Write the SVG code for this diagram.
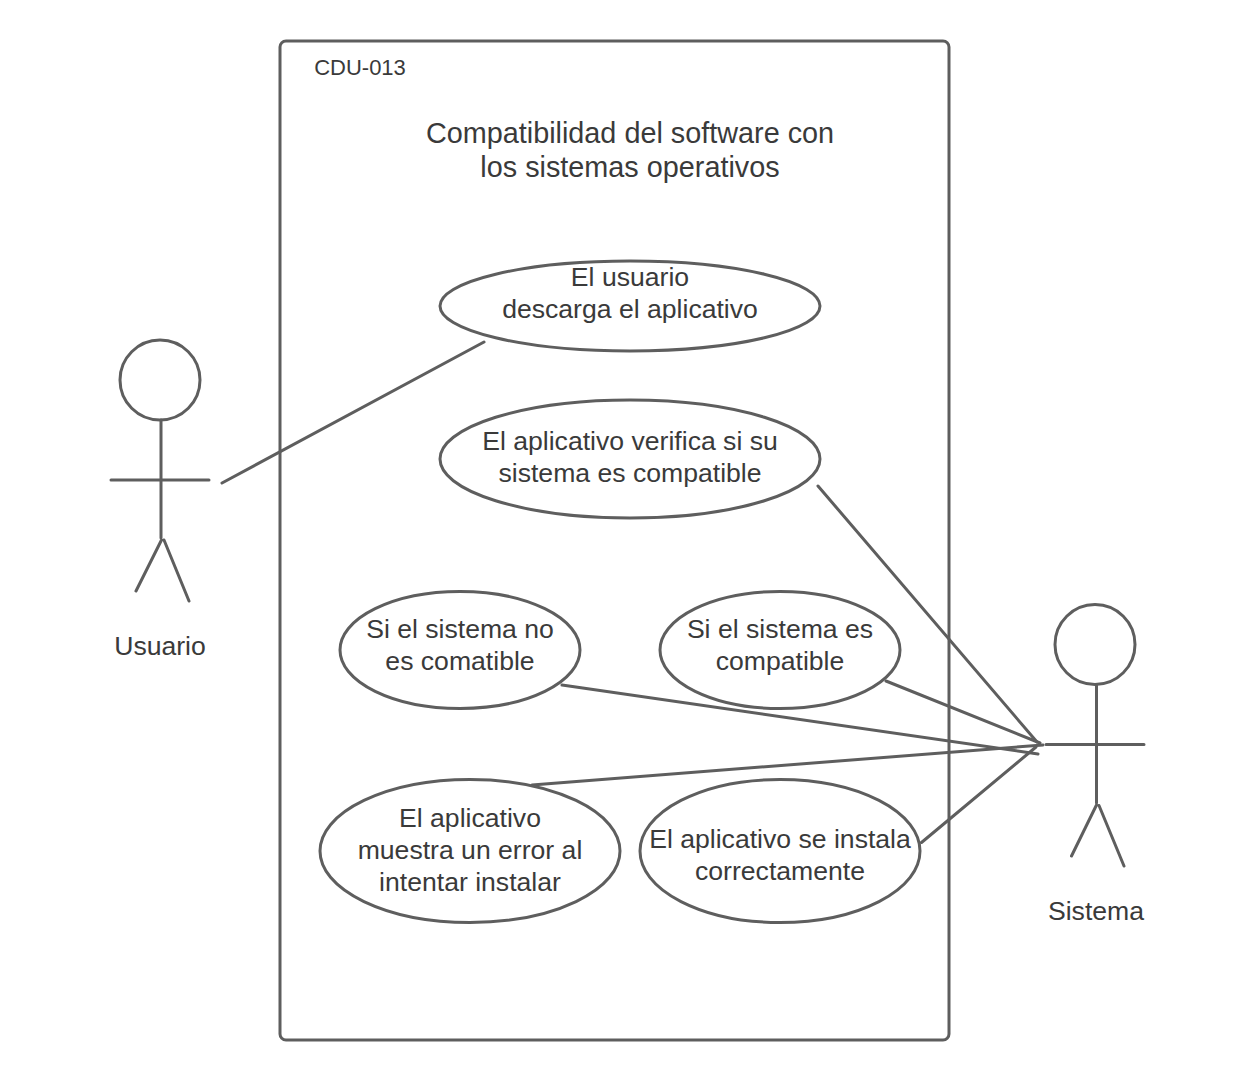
<svg xmlns="http://www.w3.org/2000/svg" width="1256" height="1080" viewBox="0 0 1256 1080">
<style>
.s{fill:none;stroke:#5e5e5e;stroke-width:3;stroke-linecap:round;stroke-linejoin:round}
.e{fill:#fff;stroke:#5e5e5e;stroke-width:3}
text{font-family:"Liberation Sans",Arial,sans-serif;font-size:26.6px;fill:#3a3a3a;text-anchor:middle}
</style>
<rect width="1256" height="1080" fill="#fff"/>
<g id="system"><rect x="280" y="41" width="669" height="999" rx="6" fill="#fff" stroke="#5e5e5e" stroke-width="3"/>
<text x="360" y="75" style="font-size:22px">CDU-013</text>
<text x="630" y="143" style="font-size:28.8px">Compatibilidad del software con</text>
<text x="630" y="177" style="font-size:28.8px">los sistemas operativos</text></g>
<g id="connectors" class="s">
<path d="M222 483L484 342"/><path d="M818 486L1037 742"/><path d="M562 685L1038 754"/><path d="M886 681L1040 743"/><path d="M532 785L1043 745"/><path d="M921.500 842.500L1036 747"/>
</g>
<g id="uc1"><ellipse class="e" cx="630" cy="306" rx="190" ry="45"/><text x="630" y="286">El usuario</text><text x="630" y="318">descarga el aplicativo</text></g>
<g id="uc2"><ellipse class="e" cx="630" cy="459" rx="190" ry="59"/><text x="630" y="450">El aplicativo verifica si su</text><text x="630" y="482">sistema es compatible</text></g>
<g id="uc3"><ellipse class="e" cx="460" cy="650" rx="120" ry="58.500"/><text x="460" y="638">Si el sistema no</text><text x="460" y="670">es comatible</text></g>
<g id="uc4"><ellipse class="e" cx="780" cy="650" rx="120" ry="58.500"/><text x="780" y="638">Si el sistema es</text><text x="780" y="670">compatible</text></g>
<g id="uc5"><ellipse class="e" cx="470" cy="851" rx="150" ry="71.500"/><text x="470" y="827">El aplicativo</text><text x="470" y="859">muestra un error al</text><text x="470" y="891">intentar instalar</text></g>
<g id="uc6"><ellipse class="e" cx="780" cy="851" rx="140" ry="71.500"/><text x="780" y="848">El aplicativo se instala</text><text x="780" y="880">correctamente</text></g>
<g id="usuario"><circle class="s" cx="160" cy="380" r="40"/><path class="s" d="M161 420V538M111 480H209M161.500 540L136 591M164 540L189 601"/><text x="160" y="654.500">Usuario</text></g>
<g id="sistema"><circle class="s" cx="1095" cy="644.500" r="40"/><path class="s" d="M1096.500 685V803M1046 744.500H1144M1096.500 805L1071.500 856M1099 805.500L1124 866"/><text x="1096" y="919.500">Sistema</text></g>
</svg>
